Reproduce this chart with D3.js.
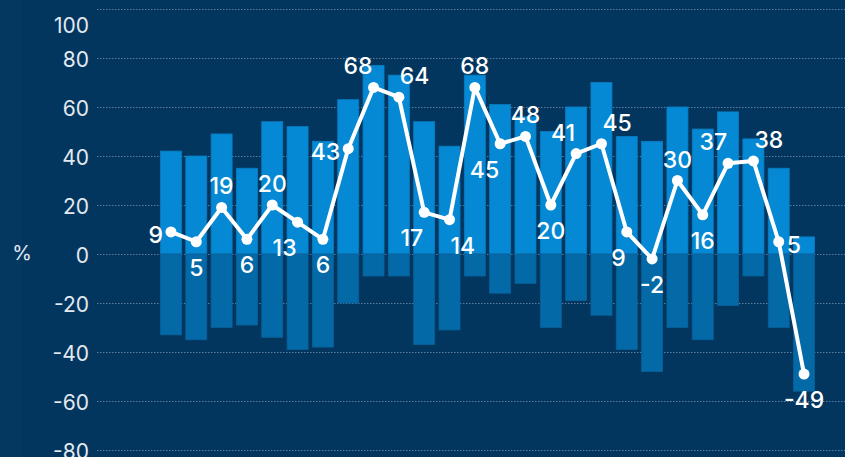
<!DOCTYPE html>
<html>
<head>
<meta charset="utf-8">
<script src="https://cdn.jsdelivr.net/npm/d3@7"></script>
<style>
  html, body { margin: 0; padding: 0; background: #02365e; overflow: hidden; }
  svg { display: block; }
</style>
</head>
<body>
<svg id="chart"></svg>
<script>
/* Data */
var categories = d3.range(1, 27).map(String);
var posValues = [42, 40, 49, 35, 54, 52, 46, 63, 77, 73, 54, 44, 73, 61, 56, 50, 60, 70, 48, 46, 60, 51, 58, 47, 35, 7];
var negValues = [-33, -35, -30, -29, -34, -39, -38, -20, -9, -9, -37, -31, -9, -16, -12, -30, -19, -25, -39, -48, -30, -35, -21, -9, -30, -56];
var lineValues = [9, 5, 19, 6, 20, 13, 6, 43, 68, 64, 17, 14, 68, 45, 48, 20, 41, 45, 9, -2, 30, 16, 37, 38, 5, -49];
var labelSide = ["left", "below", "above", "below", "above", "below-left", "below", "left", "above-left", "above-right",
                 "below-left", "below-right", "above", "below-left", "above", "below", "above-left", "above-right",
                 "below-left", "below", "above", "below", "above-left", "above-right", "right", "below"];
var yTicks = [-80, -60, -40, -20, 0, 20, 40, 60, 80, 100];

/* Options */
var options = {
    width: 845,
    height: 457,
    bg: "#02365e",
    posColor: "#0689d4",
    negColor: "#046aa7",
    gridColor: "rgba(200,215,235,0.45)",
    tickColor: "#e3e9f1",
    font: "Inter, 'Open Sans', sans-serif"
};

var svg = d3.select("#chart")
    .attr("width", options.width)
    .attr("height", options.height);

svg.append("rect")
    .attr("width", options.width).attr("height", options.height)
    .attr("fill", options.bg);
// faintly lighter strip at far left
svg.append("rect")
    .attr("width", 22).attr("height", options.height)
    .attr("fill", "#043860");

var y = d3.scaleLinear().domain([-80, 100]).range([450, 9]);
var x = d3.scaleBand().domain(categories)
    .range([158.3, 816.7])
    .paddingInner(0.17)
    .paddingOuter(0.085);

// Grid lines
svg.append("g").selectAll("line")
    .data(yTicks)
    .enter().append("line")
    .attr("x1", 97).attr("x2", options.width)
    .attr("y1", function(d){ return Math.round(y(d)) + 0.5; })
    .attr("y2", function(d){ return Math.round(y(d)) + 0.5; })
    .attr("stroke", options.gridColor)
    .attr("stroke-width", 1)
    .attr("stroke-dasharray", "1.5,1.5");

// Tick labels
svg.append("g").selectAll("text")
    .data(yTicks)
    .enter().append("text")
    .attr("x", 89)
    .attr("y", function(d){ return Math.max(y(d) + 1.5, 26); })
    .attr("dy", "0.35em")
    .attr("text-anchor", "end")
    .attr("fill", options.tickColor)
    .style("font-family", options.font)
    .style("font-size", "21px")
    .text(function(d){ return d; });

svg.append("text")
    .attr("x", 22).attr("y", 253)
    .attr("dy", "0.35em")
    .attr("text-anchor", "middle")
    .attr("fill", options.tickColor)
    .style("font-family", options.font)
    .style("font-size", "20px")
    .text("%");

// Bars
svg.append("g").selectAll("rect")
    .data(posValues)
    .enter().append("rect")
    .attr("x", function(d, i){ return x(categories[i]); })
    .attr("width", x.bandwidth())
    .attr("y", function(d){ return y(d); })
    .attr("height", function(d){ return y(0) - y(d); })
    .attr("fill", options.posColor)
    .attr("stroke", "#0a7cc0")
    .attr("stroke-width", 0.8);

svg.append("g").selectAll("rect")
    .data(negValues)
    .enter().append("rect")
    .attr("x", function(d, i){ return x(categories[i]); })
    .attr("width", x.bandwidth())
    .attr("y", y(0))
    .attr("height", function(d){ return y(d) - y(0); })
    .attr("fill", options.negColor)
    .attr("stroke", "#0a5f98")
    .attr("stroke-width", 0.8);

// Line
function cx(i){ return x(categories[i]) + x.bandwidth() / 2; }

var line = d3.line()
    .x(function(d, i){ return cx(i); })
    .y(function(d){ return y(d); });

svg.append("path")
    .datum(lineValues)
    .attr("d", line)
    .attr("fill", "none")
    .attr("stroke", "#ffffff")
    .attr("stroke-width", 4)
    .attr("stroke-linejoin", "round");

svg.append("g").selectAll("circle")
    .data(lineValues)
    .enter().append("circle")
    .attr("cx", function(d, i){ return cx(i); })
    .attr("cy", function(d){ return y(d); })
    .attr("r", 5.5)
    .attr("fill", "#ffffff");

// Data labels
function labelX(d, i){
    var side = labelSide[i], px = cx(i);
    if (side === "left") return px - 8;
    if (side === "right") return px + 8;
    if (side.indexOf("-left") > 0) return px - 1;
    if (side.indexOf("-right") > 0) return px + 1;
    return px;
}
function labelY(d, i){
    var side = labelSide[i], py = y(d);
    if (side === "left" || side === "right") return py + 11;
    if (side.indexOf("above") === 0) return py - 13;
    return py + 34;
}
function labelAnchor(d, i){
    var side = labelSide[i];
    if (side === "left" || side.indexOf("-left") > 0) return "end";
    if (side === "right" || side.indexOf("-right") > 0) return "start";
    return "middle";
}

svg.append("g").selectAll("text")
    .data(lineValues)
    .enter().append("text")
    .attr("x", labelX)
    .attr("y", labelY)
    .attr("text-anchor", labelAnchor)
    .attr("fill", "#ffffff")
    .style("font-family", options.font)
    .style("font-size", "23px")
    .style("font-weight", 500)
    .text(function(d){ return d; });
</script>
</body>
</html>
